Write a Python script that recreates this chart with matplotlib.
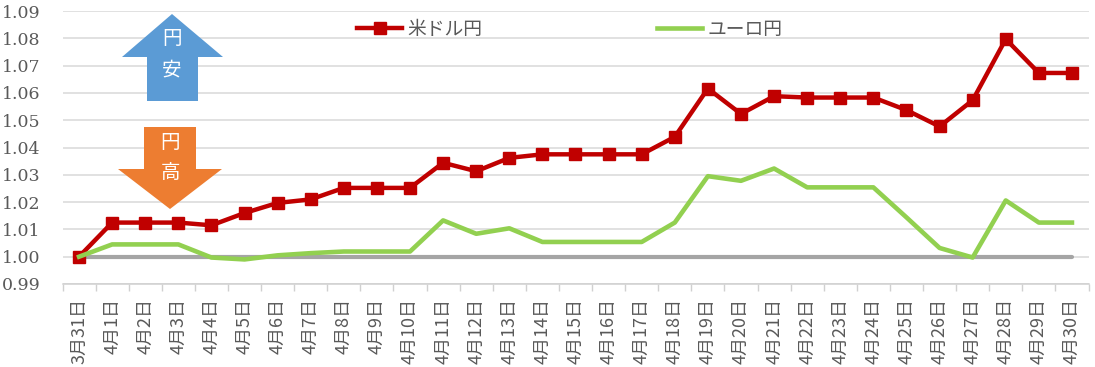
import matplotlib
matplotlib.use("Agg")
import matplotlib.pyplot as plt
from matplotlib.patches import Polygon
import numpy as np

# 日付ラベル
dates = ["3月31日"] + [f"4月{d}日" for d in range(1, 31)]

# 3月31日を1とした指数
usd_jpy = [1.000, 1.0125, 1.0125, 1.0125, 1.0115, 1.016, 1.0197, 1.021, 1.0252, 1.0252,
           1.0252, 1.0344, 1.0313, 1.0362, 1.0375, 1.0375, 1.0375, 1.0375, 1.0439, 1.0616,
           1.0523, 1.0588, 1.0583, 1.0583, 1.0583, 1.0537, 1.0477, 1.0573, 1.0797, 1.0673,
           1.0673]
eur_jpy = [1.000, 1.0045, 1.0045, 1.0045, 0.9997, 0.999, 1.0005, 1.0013, 1.0019, 1.0019,
           1.0019, 1.0133, 1.0084, 1.0104, 1.0054, 1.0054, 1.0054, 1.0054, 1.0125, 1.0295,
           1.0278, 1.0323, 1.0254, 1.0254, 1.0254, 1.0144, 1.0032, 0.9997, 1.0206, 1.0125,
           1.0125]
base = [1.0] * len(dates)

yticks = [0.99, 1.00, 1.01, 1.02, 1.03, 1.04, 1.05, 1.06, 1.07, 1.08, 1.09]

W, H = 1095, 367
jp_font = ["Noto Sans CJK JP", "DejaVu Sans"]
text_color = "#595959"


def px(x, y):
    # ピクセル座標 -> figure座標
    return (x / W, 1 - y / H)


fig = plt.figure(figsize=(W / 100, H / 100), dpi=100)
ax = fig.add_axes([62.5 / W, (H - 284) / H, (1088.5 - 62.5) / W, (284 - 11) / H])

x = np.arange(len(dates))

ax.plot(x, base, color="#a5a5a5", lw=3.0, solid_capstyle="round", zorder=2)
ax.plot(x, usd_jpy, color="#c00000", lw=3.2, marker="s", markersize=8,
        label="米ドル円", zorder=3)
ax.plot(x, eur_jpy, color="#92d050", lw=3.3, label="ユーロ円", zorder=4)

ax.set_xlim(-0.5, len(dates) - 0.5)
ax.set_ylim(0.99, 1.09)
ax.set_yticks(yticks)
ax.set_yticklabels([f"{v:.2f}" for v in yticks], family="DejaVu Serif",
                   fontsize=12.5, color=text_color)
ax.set_xticks(x)
ax.set_xticklabels(dates, rotation=90, family=jp_font, fontsize=13,
                   color=text_color, va="top", ha="center")
ax.set_xticks(np.arange(-0.5, len(dates), 1), minor=True)
ax.tick_params(axis="y", length=0, pad=16)
ax.tick_params(axis="x", which="major", length=0, pad=10)
ax.tick_params(axis="x", which="minor", length=5, color="#d0d0d0", width=1)

ax.grid(axis="y", color="#d9d9d9", lw=1.1, zorder=0)
ax.set_axisbelow(True)
for s in ["top", "right", "left"]:
    ax.spines[s].set_visible(False)
ax.spines["bottom"].set_color("#d0d0d0")
ax.spines["bottom"].set_linewidth(1.1)

leg = ax.legend(loc="center", bbox_to_anchor=px(570, 29), bbox_transform=fig.transFigure,
                ncol=2, frameon=False, handlelength=2.4, handletextpad=0.3,
                columnspacing=9.3, borderaxespad=0,
                prop={"family": jp_font, "size": 13.5})
for t in leg.get_texts():
    t.set_color(text_color)

# 円安（上向き矢印）
up = [(172, 14), (223, 57), (198, 57), (198, 101), (147, 101), (147, 57), (122, 57)]
fig.patches.append(Polygon([px(a, b) for a, b in up], closed=True, facecolor="#5b9bd5",
                           edgecolor="none", transform=fig.transFigure, zorder=5))
fig.text(*px(172, 39), "円", color="white", ha="center", va="center",
         family=jp_font, fontsize=14, zorder=6)
fig.text(*px(172, 70), "安", color="white", ha="center", va="center",
         family=jp_font, fontsize=14, zorder=6)

# 円高（下向き矢印）
down = [(144, 127), (196, 127), (196, 169), (222, 169), (170, 209), (118, 169), (144, 169)]
fig.patches.append(Polygon([px(a, b) for a, b in down], closed=True, facecolor="#ed7d31",
                           edgecolor="none", transform=fig.transFigure, zorder=5))
fig.text(*px(170, 143), "円", color="white", ha="center", va="center",
         family=jp_font, fontsize=14, zorder=6)
fig.text(*px(170, 173), "高", color="white", ha="center", va="center",
         family=jp_font, fontsize=14, zorder=6)

fig.savefig("out.png", dpi=100)
